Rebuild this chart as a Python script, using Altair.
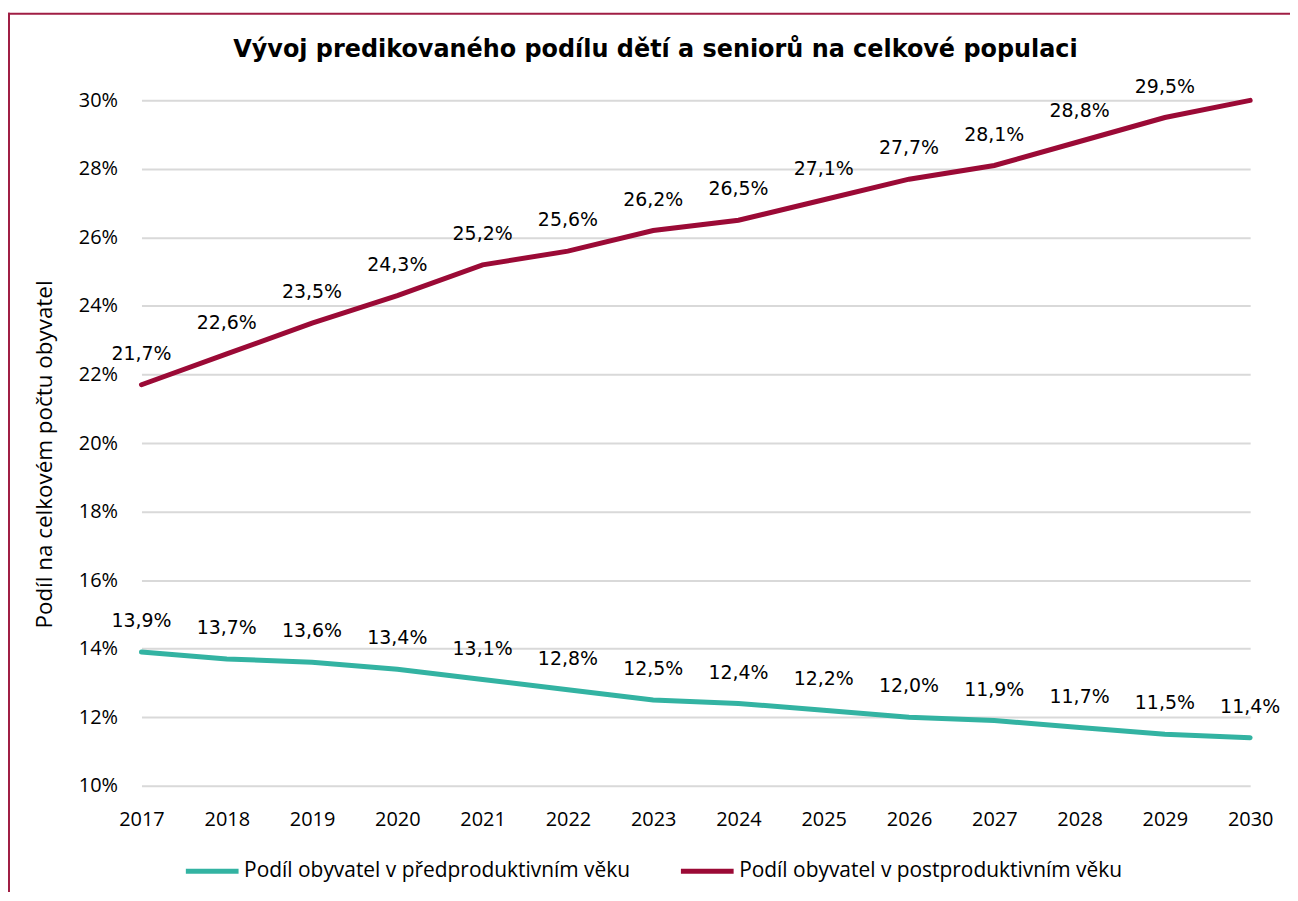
import altair as alt
import pandas as pd

years = [2017, 2018, 2019, 2020, 2021, 2022, 2023, 2024, 2025, 2026, 2027, 2028, 2029, 2030]
pre_values = [13.9, 13.7, 13.6, 13.4, 13.1, 12.8, 12.5, 12.4, 12.2, 12.0, 11.9, 11.7, 11.5, 11.4]
post_values = [21.7, 22.6, 23.5, 24.3, 25.2, 25.6, 26.2, 26.5, 27.1, 27.7, 28.1, 28.8, 29.5, 30.0]
post_label_shown = [True] * 13 + [False]
series_names = ["Podíl obyvatel v předproduktivním věku", "Podíl obyvatel v postproduktivním věku"]
series_colors = ["#33B3A2", "#9B0A36"]
title_text = "Vývoj predikovaného podílu dětí a seniorů na celkové populaci"

rows = []
for y, v in zip(years, pre_values):
    rows.append({"year": y, "value": v, "series": series_names[0], "show": True})
for y, v, s in zip(years, post_values, post_label_shown):
    rows.append({"year": y, "value": v, "series": series_names[1], "show": s})
df = pd.DataFrame(rows)

AXIS_FONT = "Open Sans"
VAL_FONT = "DejaVu Sans"

x = alt.X("year:O", scale=alt.Scale(padding=0),
          axis=alt.Axis(title=None, labelAngle=0, ticks=False, domain=False,
                        labelFont=AXIS_FONT, labelFontSize=20, labelColor="#000",
                        labelPadding=24))
y = alt.Y("value:Q", scale=alt.Scale(domain=[10, 30], nice=False),
          axis=alt.Axis(title="Podíl na celkovém počtu obyvatel", values=list(range(10, 31, 2)),
                        labelExpr="datum.value + '%'", ticks=False, domain=False,
                        labelFont=AXIS_FONT, labelFontSize=20, labelColor="#000",
                        labelPadding=24, gridColor="#D9D9D9", gridWidth=2,
                        titleFont=AXIS_FONT, titleFontSize=22.5, titleFontWeight="normal",
                        titleColor="#000", titleAngle=270, titleX=-97, titleY=355,
                        titleAlign="center", titleBaseline="middle"))
color = alt.Color("series:N", scale=alt.Scale(domain=series_names, range=series_colors),
                  legend=alt.Legend(title=None, orient="none", legendX=42, legendY=745,
                                    direction="horizontal", symbolType="stroke",
                                    symbolSize=2800, symbolStrokeWidth=5,
                                    labelFont=AXIS_FONT, labelFontSize=21, labelColor="#000",
                                    labelOffset=3, columnPadding=40, padding=0,
                                    labelLimit=600))

lines = alt.Chart(df).mark_line(strokeWidth=5, strokeCap="round").encode(x=x, y=y, color=color)
labels = alt.Chart(df).transform_filter("datum.show").transform_calculate(
    lab="replace(format(datum.value, '.1f'), '.', ',') + '%'"
).mark_text(font=VAL_FONT, fontSize=19, dy=-31, color="#000", baseline="middle").encode(
    x="year:O", y="value:Q", text="lab:N")

deco_df = pd.DataFrame({"t": [title_text]})
title_mark = alt.Chart(deco_df).mark_text(
    font="DejaVu Sans", fontSize=24, fontWeight="bold", color="#000",
    align="center", baseline="middle").encode(
    x=alt.value(516), y=alt.value(-51), text="t:N")
top_border = alt.Chart(deco_df).mark_rule(color="#A01E44", strokeWidth=2).encode(
    x=alt.value(-134), x2=alt.value(1250), y=alt.value(-87))
left_border = alt.Chart(deco_df).mark_rule(color="#A01E44", strokeWidth=2).encode(
    x=alt.value(-133), y=alt.value(-88), y2=alt.value(900))

chart = alt.layer(lines, labels, title_mark, top_border, left_border).properties(
    width=1113, height=688,
    autosize=alt.AutoSizeParams(type="none"),
    padding={"left": 134, "top": 91, "right": 40, "bottom": 105},
).configure_view(stroke=None)

chart.save("out.html", embed_options={"renderer": "svg", "actions": False})
